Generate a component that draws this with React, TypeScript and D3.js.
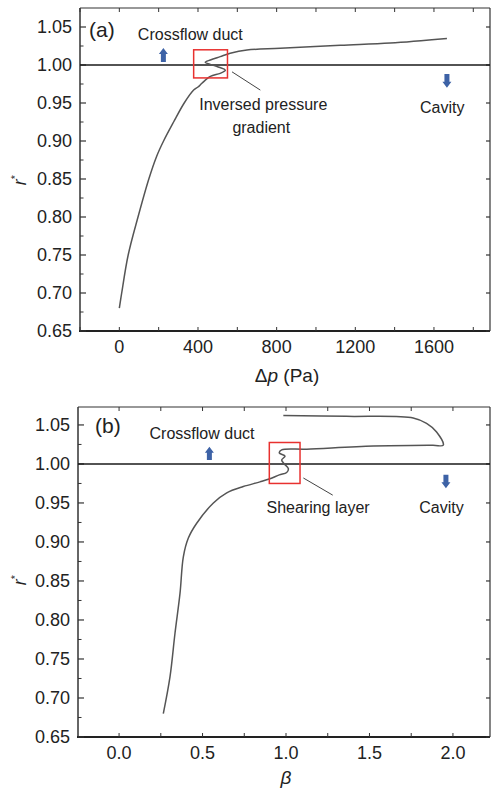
import React from "react";
import * as d3 from "d3";

// panel (a): r* against pressure difference
const dpValues = [0, 12, 45, 95, 150, 190, 225, 276, 330, 378, 400, 420, 463, 513, 539, 497, 437, 463, 513, 564, 649, 818, 1124, 1378, 1666];
const dpRatio = [0.68, 0.7, 0.75, 0.8, 0.85, 0.88, 0.9, 0.925, 0.95, 0.967, 0.971, 0.976, 0.985, 0.989, 0.993, 0.998, 1.0035, 1.0066, 1.011, 1.0154, 1.0197, 1.022, 1.026, 1.029, 1.035];

// panel (b): r* against beta
const betaValues = [0.265, 0.305, 0.335, 0.365, 0.385, 0.415, 0.465, 0.565, 0.645, 0.744, 0.844, 0.904, 0.96, 1.004, 1.014, 0.99, 0.974, 0.994, 0.96, 0.974, 1.124, 1.523, 1.88, 1.942, 1.902, 1.842, 1.762, 1.363, 0.984];
const betaRatio = [0.68, 0.727, 0.783, 0.834, 0.881, 0.905, 0.924, 0.95, 0.963, 0.971, 0.977, 0.981, 0.986, 0.989, 0.994, 1.0, 1.005, 1.01, 1.014, 1.018, 1.019, 1.023, 1.024, 1.024, 1.041, 1.052, 1.059, 1.061, 1.062];

const rTicks = [0.65, 0.7, 0.75, 0.8, 0.85, 0.9, 0.95, 1.0, 1.05];
const dpTicks = [0, 400, 800, 1200, 1600];
const betaTicks = [0, 0.5, 1.0, 1.5, 2.0];

const FONT = "'Liberation Sans', Arial, sans-serif";
const LINE = "#555";
const FRAME = "#333";
const BLUE = "#3d62a6";

type Note = { x: number; y: number; text: string };

type PanelProps = {
  box: { left: number; right: number; top: number; bottom: number };
  xDomain: [number, number];
  yDomain: [number, number];
  xs: number[];
  ys: number[];
  xTicks: number[];
  xStep: number;
  xFmt: (v: number) => string;
  label: string;
  labelPos: [number, number];
  xTitle: React.ReactNode;
  xTitleY: number;
  yTitleY: number;
  rect: [number, number, number, number];
  pointer: [number, number, number, number];
  notes: Note[];
  upArrow: [number, number, number];
  downArrow: [number, number, number];
};

function Arrow({ x, y1, y2, up }: { x: number; y1: number; y2: number; up: boolean }) {
  // y1 top, y2 bottom in pixels
  const w = 2.5;
  const hw = 4.5;
  const hl = 6;
  const d = up
    ? `M${x},${y1} L${x + hw},${y1 + hl} L${x + w},${y1 + hl} L${x + w},${y2} L${x - w},${y2} L${x - w},${y1 + hl} L${x - hw},${y1 + hl} Z`
    : `M${x},${y2} L${x + hw},${y2 - hl} L${x + w},${y2 - hl} L${x + w},${y1} L${x - w},${y1} L${x - w},${y2 - hl} L${x - hw},${y2 - hl} Z`;
  return <path d={d} fill={BLUE} />;
}

function Panel(p: PanelProps) {
  const { left, right, top, bottom } = p.box;
  const x = d3.scaleLinear().domain(p.xDomain).range([left, right]);
  const y = d3.scaleLinear().domain(p.yDomain).range([bottom, top]);
  const pts = p.xs.map((v, i) => [v, p.ys[i]] as [number, number]);
  const line = d3
    .line<[number, number]>()
    .x((d) => x(d[0]))
    .y((d) => y(d[1]))
    .curve(d3.curveCatmullRom.alpha(0.5));

  const xMinor = d3.range(Math.ceil(p.xDomain[0] / p.xStep) * p.xStep, p.xDomain[1], p.xStep);
  const yMinor = d3.range(0.675, 1.07, 0.05);

  return (
    <g>
      {/* frame */}
      <line x1={left} x2={right} y1={top} y2={top} stroke={FRAME} strokeWidth={1.2} />
      <line x1={right} x2={right} y1={top} y2={bottom} stroke={FRAME} strokeWidth={1.2} />
      <line x1={left} x2={left} y1={top} y2={bottom} stroke={FRAME} strokeWidth={1.5} />
      <line x1={left - 1} x2={right} y1={bottom} y2={bottom} stroke="#222" strokeWidth={2.2} />

      {/* x ticks top and bottom */}
      {xMinor.map((t) => (
        <g key={"xt" + t}>
          <line x1={x(t)} x2={x(t)} y1={top} y2={top + 4} stroke={FRAME} />
          <line x1={x(t)} x2={x(t)} y1={bottom} y2={bottom - 4} stroke={FRAME} />
        </g>
      ))}
      {p.xTicks.map((t) => (
        <text key={"xl" + t} x={x(t)} y={bottom + 22} textAnchor="middle" fontSize={18} fontFamily={FONT} fill="#222">
          {p.xFmt(t)}
        </text>
      ))}

      {/* y ticks */}
      {rTicks.map((t) => (
        <g key={"yt" + t}>
          <line x1={left} x2={left + 6} y1={y(t)} y2={y(t)} stroke={FRAME} strokeWidth={1.2} />
          <line x1={right} x2={right - 4} y1={y(t)} y2={y(t)} stroke={FRAME} strokeWidth={1.2} />
          <text x={left - 8} y={y(t) + 6} textAnchor="end" fontSize={18} fontFamily={FONT} fill="#222">
            {d3.format(".2f")(t)}
          </text>
        </g>
      ))}
      {yMinor.map((t) => (
        <line key={"ym" + t} x1={left} x2={left + 3.5} y1={y(t)} y2={y(t)} stroke={FRAME} />
      ))}

      {/* reference line r* = 1 */}
      <line x1={left} x2={right} y1={y(1)} y2={y(1)} stroke="#1a1a1a" strokeWidth={1.5} />

      {/* curve */}
      <path d={line(pts) ?? ""} fill="none" stroke={LINE} strokeWidth={1.5} />

      {/* highlight box and pointer */}
      <rect
        x={x(p.rect[0])}
        y={y(p.rect[3])}
        width={x(p.rect[1]) - x(p.rect[0])}
        height={y(p.rect[2]) - y(p.rect[3])}
        fill="none"
        stroke="#e8312f"
        strokeWidth={1.5}
      />
      <line x1={x(p.pointer[0])} y1={y(p.pointer[1])} x2={x(p.pointer[2])} y2={y(p.pointer[3])} stroke="#444" strokeWidth={1} />

      {p.notes.map((n) => (
        <text key={n.text} x={x(n.x)} y={y(n.y)} textAnchor="middle" fontSize={16} fontFamily={FONT} fill="#222">
          {n.text}
        </text>
      ))}
      <Arrow x={x(p.upArrow[0])} y1={y(p.upArrow[2])} y2={y(p.upArrow[1])} up={true} />
      <Arrow x={x(p.downArrow[0])} y1={y(p.downArrow[2])} y2={y(p.downArrow[1])} up={false} />

      <text x={p.labelPos[0]} y={p.labelPos[1]} fontSize={21} fontFamily={FONT} fill="#222">
        {p.label}
      </text>

      {/* axis titles */}
      <text x={(left + right) / 2 + 2} y={p.xTitleY} textAnchor="middle" fontSize={19} fontFamily={FONT} fill="#222">
        {p.xTitle}
      </text>
      <text
        transform={`translate(26, ${p.yTitleY}) rotate(-90)`}
        textAnchor="middle"
        fontSize={18}
        fontFamily={FONT}
        fill="#222"
      >
        <tspan fontStyle="italic">r</tspan>
        <tspan fontSize={11} dy={-7}>*</tspan>
      </text>
    </g>
  );
}

export default function App() {
  return (
    <div style={{ position: "absolute", left: 0, top: 0 }}>
      <svg width={492} height={792} style={{ display: "block", background: "#fff" }}>
        <Panel
          box={{ left: 80, right: 490, top: 8, bottom: 331 }}
          xDomain={[-200, 1885]}
          yDomain={[0.65, 1.075]}
          xs={dpValues}
          ys={dpRatio}
          xTicks={dpTicks}
          xStep={200}
          xFmt={(v) => String(v)}
          label="(a)"
          labelPos={[89, 37]}
          xTitle={
            <>
              <tspan>Δ</tspan>
              <tspan fontStyle="italic">p</tspan>
              <tspan> (Pa)</tspan>
            </>
          }
          xTitleY={382}
          yTitleY={180}
          rect={[378, 550, 0.983, 1.02]}
          pointer={[573, 0.991, 717, 0.967]}
          notes={[
            { x: 361, y: 1.033, text: "Crossflow duct" },
            { x: 732, y: 0.941, text: "Inversed pressure" },
            { x: 722, y: 0.9105, text: "gradient" },
            { x: 1642, y: 0.937, text: "Cavity" },
          ]}
          upArrow={[224, 1.004, 1.0224]}
          downArrow={[1666, 0.97, 0.988]}
        />
        <Panel
          box={{ left: 78, right: 490, top: 407, bottom: 737 }}
          xDomain={[-0.246, 2.222]}
          yDomain={[0.65, 1.073]}
          xs={betaValues}
          ys={betaRatio}
          xTicks={betaTicks}
          xStep={0.25}
          xFmt={d3.format(".1f")}
          label="(b)"
          labelPos={[95, 433]}
          xTitle={<tspan fontStyle="italic">β</tspan>}
          xTitleY={784}
          yTitleY={580}
          rect={[0.9, 1.084, 0.975, 1.0275]}
          pointer={[1.104, 0.982, 1.28, 0.96]}
          notes={[
            { x: 0.497, y: 1.032, text: "Crossflow duct" },
            { x: 1.192, y: 0.937, text: "Shearing layer" },
            { x: 1.931, y: 0.937, text: "Cavity" },
          ]}
          upArrow={[0.541, 1.005, 1.022]}
          downArrow={[1.958, 0.969, 0.986]}
        />
      </svg>
    </div>
  );
}
